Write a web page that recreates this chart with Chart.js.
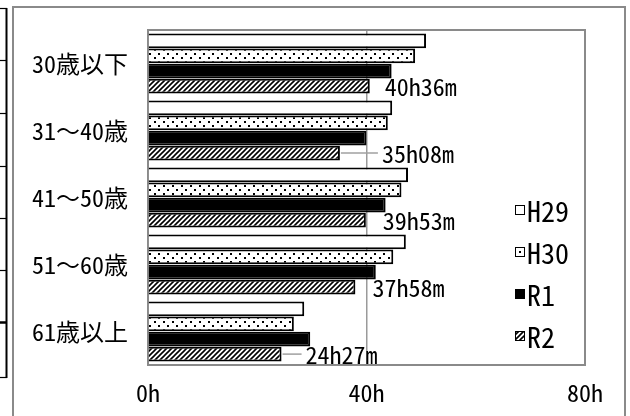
<!DOCTYPE html>
<html>
<head>
<meta charset="utf-8">
<script src="https://cdn.jsdelivr.net/npm/chart.js@4/dist/chart.umd.min.js"></script>
<style>
  html, body { margin: 0; padding: 0; background: #fff; }
  #wrap { position: relative; width: 630px; height: 416px; }
  canvas { display: block; }
</style>
</head>
<body>
<div id="wrap"><canvas id="c" width="630" height="416"></canvas></div>
<script>
// Average monthly overtime by age bracket, four fiscal years
const categories = ['30歳以下', '31～40歳', '41～50歳', '51～60歳', '61歳以上'];
const seriesNames = ['H29', 'H30', 'R1', 'R2'];
const h29 = [50.9, 44.7, 47.6, 47.2, 28.6];
const h30 = [48.9, 43.9, 46.4, 44.9, 26.7];
const r1  = [44.6, 40.0, 43.5, 41.7, 29.7];
const r2Hours   = [40, 35, 39, 37, 24];
const r2Minutes = [36,  8, 53, 58, 27];
const xTicks = [0, 40, 80];

const r2 = r2Hours.map((h, i) => h + r2Minutes[i] / 60);
const r2Labels = r2Hours.map((h, i) => h + 'h' + String(r2Minutes[i]).padStart(2, '0') + 'm');

// horizontal distance (px) from the end of each R2 bar to its label
const labelGap = [15, 42, 17, 17, 24];

const FONT = '"Noto Sans Mono CJK JP", "Noto Sans CJK JP", monospace';
Chart.defaults.font.family = FONT;
Chart.defaults.color = '#000';

function makeDots() {
  const c = document.createElement('canvas');
  c.width = 9; c.height = 8;
  const g = c.getContext('2d');
  g.fillStyle = '#fff'; g.fillRect(0, 0, 9, 8);
  g.fillStyle = '#000';
  g.fillRect(1, 1, 2, 2);
  g.fillRect(5, 5, 2, 2);
  return g.createPattern(c, 'repeat');
}
function makeHatch() {
  const s = 5;
  const c = document.createElement('canvas');
  c.width = s; c.height = s;
  const g = c.getContext('2d');
  g.fillStyle = '#fff'; g.fillRect(0, 0, s, s);
  g.strokeStyle = '#000'; g.lineWidth = 1.6;
  g.beginPath();
  g.moveTo(-1, s + 1); g.lineTo(s + 1, -1);
  g.moveTo(-1, 1); g.lineTo(1, -1);
  g.moveTo(s - 1, s + 1); g.lineTo(s + 1, s - 1);
  g.stroke();
  return g.createPattern(c, 'repeat');
}
const dotFill = makeDots();
const hatchFill = makeHatch();
const fills = ['#fff', dotFill, '#000', hatchFill];

// page frame: outer panel border and the edge of the neighbouring table
const framePlugin = {
  id: 'frame',
  beforeDraw(chart) {
    const g = chart.ctx;
    g.save();
    g.fillStyle = '#fff';
    g.fillRect(0, 0, chart.width, chart.height);
    g.strokeStyle = '#8a8a8a';
    g.lineWidth = 2;
    g.strokeRect(13, 7, 612, 420);
    g.strokeStyle = '#000';
    g.lineWidth = 2;
    g.beginPath();
    g.moveTo(6.5, 8); g.lineTo(6.5, 378);
    g.stroke();
    [8, 60, 113, 166, 218, 270, 377].forEach(y => {
      g.lineWidth = 1.2;
      g.beginPath(); g.moveTo(0, y + 0.5); g.lineTo(7, y + 0.5); g.stroke();
    });
    g.lineWidth = 2.5;
    g.beginPath(); g.moveTo(0, 322.5); g.lineTo(7, 322.5); g.stroke();
    g.restore();
  },
  beforeDatasetsDraw(chart) {
    const a = chart.chartArea, g = chart.ctx;
    g.save();
    g.strokeStyle = '#8a8a8a';
    g.lineWidth = 2;
    g.strokeRect(a.left, a.top, a.right - a.left, a.bottom - a.top);
    g.restore();
  }
};

// R2 value labels with leader lines where the label sits far from its bar
const labelPlugin = {
  id: 'r2labels',
  afterDatasetsDraw(chart) {
    const g = chart.ctx;
    const meta = chart.getDatasetMeta(3);
    g.save();
    g.font = '24px ' + FONT;
    g.textBaseline = 'middle';
    g.textAlign = 'left';
    meta.data.forEach((bar, i) => {
      const tx = bar.x + labelGap[i];
      if (labelGap[i] > 20) {
        g.strokeStyle = '#a0a0a0';
        g.lineWidth = 1.5;
        g.beginPath();
        g.moveTo(bar.x + 1, bar.y);
        g.lineTo(tx - 4, bar.y);
        g.stroke();
      }
      g.fillStyle = '#000';
      g.fillText(r2Labels[i], tx, bar.y + 1);
    });
    g.restore();
  }
};

// legend stacked inside the right part of the plot
const legendPlugin = {
  id: 'sideLegend',
  afterDraw(chart) {
    const g = chart.ctx;
    g.save();
    g.font = '28px ' + FONT;
    g.textBaseline = 'middle';
    g.textAlign = 'left';
    chart.data.datasets.forEach((ds, i) => {
      const cy = 210 + i * 42;
      const bx = 515, by = cy - 5;
      g.fillStyle = i === 1 ? '#fff' : ds.backgroundColor;
      g.fillRect(bx, by, 10, 10);
      if (i === 1) {
        g.fillStyle = '#000';
        g.fillRect(bx + 4, by + 4, 2, 2);
      }
      g.strokeStyle = '#000';
      g.lineWidth = 1;
      g.strokeRect(bx + 0.5, by + 0.5, 9, 9);
      g.fillStyle = '#000';
      g.fillText(ds.label, bx + 12, cy + 1);
    });
    g.restore();
  }
};

const seriesValues = [h29, h30, r1, r2];

new Chart(document.getElementById('c'), {
  type: 'bar',
  data: {
    labels: categories,
    datasets: seriesNames.map((name, i) => ({
      label: name,
      data: seriesValues[i],
      backgroundColor: fills[i],
      borderColor: '#000',
      borderWidth: 2,
      categoryPercentage: 0.9,
      barPercentage: 0.98
    }))
  },
  options: {
    indexAxis: 'y',
    responsive: false,
    animation: false,
    devicePixelRatio: 1,
    layout: { padding: { top: 30, right: 45, left: 0, bottom: 0 } },
    plugins: { legend: { display: false }, tooltip: { enabled: false } },
    scales: {
      x: {
        min: 0, max: 80,
        afterBuildTicks: s => { s.ticks = xTicks.map(v => ({ value: v })); },
        ticks: { callback: v => v + 'h', color: '#000', font: { size: 24 }, padding: 13, maxRotation: 0 },
        grid: {
          drawTicks: false,
          lineWidth: 1.5,
          color: c => (c.tick && c.tick.value === 40) ? '#9a9a9a' : 'rgba(0,0,0,0)'
        },
        border: { display: false },
        afterFit: s => { s.height = 51; s.paddingLeft = 0; s.paddingRight = 0; }
      },
      y: {
        ticks: { color: '#000', font: { size: 24 }, padding: 20 },
        grid: { display: false, drawTicks: false },
        border: { display: false },
        afterFit: s => { s.width = 148; s.paddingTop = 0; s.paddingBottom = 0; }
      }
    }
  },
  plugins: [framePlugin, labelPlugin, legendPlugin]
});
</script>
</body>
</html>
